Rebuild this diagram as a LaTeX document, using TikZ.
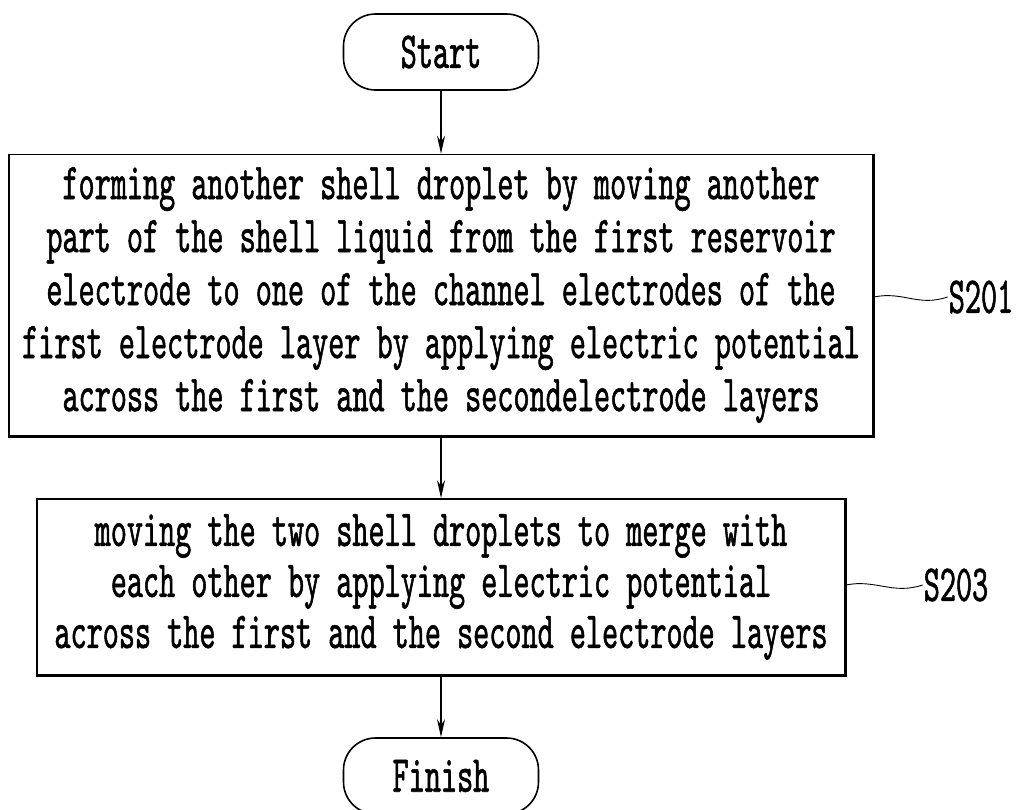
\documentclass[tikz,border=0pt]{standalone}
\usepackage{fontspec}
\newfontfamily\figfont{lmmono10-regular}[Extension=.otf,FakeStretch=0.59,FakeBold=1]
\usetikzlibrary{positioning}
\usetikzlibrary{%
  calc,%
  arrows.meta%
}
\tikzset{
  figtext/.style={font=\figfont\fontsize{52}{53}\selectfont},
  terminal/.style={figtext, draw, line width=1.6pt, rounded corners=32pt,
    minimum width=195pt, minimum height=76pt, inner sep=0pt},
  stepbox/.style={figtext, draw, line width=1.6pt, align=center, inner sep=0pt},
  steplabel/.style={figtext, inner sep=1pt},
  leadline/.style={line width=0.9pt},
  flow/.style={line width=1.4pt, -{Stealth[length=18pt,width=8pt]}}
}

\begin{document}
\begin{tikzpicture}[x=1pt,y=-1pt]
\useasboundingbox (0,0) rectangle (1025,809);
\node[terminal] (start) at (441,52) {Start};
\node[stepbox, minimum width=864pt, minimum height=281pt] (box1) at (441,295)
  {forming another shell droplet by moving another\\
   part of the shell liquid from the first reservoir\\
   electrode to one of the channel electrodes of the\\
   first electrode layer by applying electric potential\\
   across the first and the secondelectrode layers};
\node[stepbox, minimum width=808pt, minimum height=176pt, font=\figfont\fontsize{52}{51}\selectfont] (box2) at (441,587)
  {moving the two shell droplets to merge with\\
   each other by applying electric potential\\
   across the first and the second electrode layers};
\node[terminal] (finish) at (441,776) {Finish};
\node[steplabel] (s201) at (981,297) {S201};
\node[steplabel] (s203) at (956,585) {S203};

\foreach \b in {box1,box2}
  \draw[line width=3pt] (\b.north east) -- (\b.south east) -- (\b.south west);

\path [flow] (start) edge (box1)
             (box1) edge (box2)
             (box2) edge (finish);

\draw[leadline] (box1.east |- s201.west) .. controls +(30,-6) and +(-30,10) .. (s201.west);
\draw[leadline] (box2.east |- s203.west) .. controls +(30,-6) and +(-30,10) .. (s203.west);
\end{tikzpicture}
\end{document}
